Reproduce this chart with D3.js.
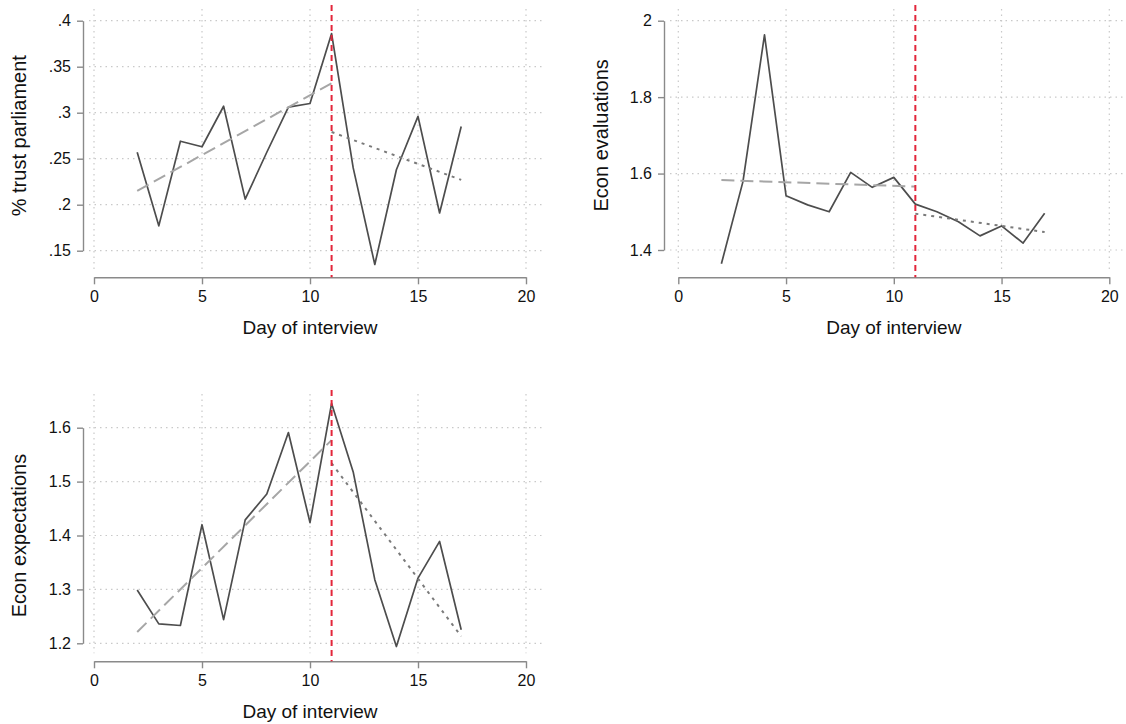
<!DOCTYPE html>
<html>
<head>
<meta charset="utf-8">
<script src="https://cdn.jsdelivr.net/npm/d3@7"></script>
<style>
  html, body { margin: 0; padding: 0; background: #fff; }
  svg { display: block; font-family: "Liberation Sans", Arial, Helvetica, sans-serif; }
</style>
</head>
<body>
<svg width="1126" height="724"></svg>
<script>
/* globals d3 */

// ---- data ----
const days = [2, 3, 4, 5, 6, 7, 8, 9, 10, 11, 12, 13, 14, 15, 16, 17];
const cutoffDay = 11;

const trustParliament = [.257, .177, .269, .263, .307, .206, .257, .306, .31, .386, .24, .135, .238, .296, .191, .285];
const econEvaluations = [1.364, 1.579, 1.963, 1.542, 1.518, 1.50, 1.603, 1.564, 1.59, 1.52, 1.50, 1.474, 1.437, 1.463, 1.418, 1.496];
const econExpectations = [1.299, 1.236, 1.233, 1.42, 1.244, 1.429, 1.477, 1.591, 1.424, 1.645, 1.518, 1.318, 1.194, 1.321, 1.389, 1.225];

// fitted lines before / after the cutoff (end points)
const preFitDays = [2, 11];
const postFitDays = [11, 17];
const trustPreFit = [.215, .332];
const trustPostFit = [.279, .227];
const evalPreFit = [1.583, 1.566];
const evalPostFit = [1.495, 1.447];
const expectPreFit = [1.221, 1.577];
const expectPostFit = [1.534, 1.213];

const xTicks = [0, 5, 10, 15, 20];
const xTickLabels = ["0", "5", "10", "15", "20"];
const trustTicks = [.15, .2, .25, .3, .35, .4];
const trustTickLabels = [".15", ".2", ".25", ".3", ".35", ".4"];
const evalTicks = [1.4, 1.6, 1.8, 2];
const evalTickLabels = ["1.4", "1.6", "1.8", "2"];
const expectTicks = [1.2, 1.3, 1.4, 1.5, 1.6];
const expectTickLabels = ["1.2", "1.3", "1.4", "1.5", "1.6"];

const xLabel = "Day of interview";

// ---- layout ----
const panels = [
  { values: trustParliament, pre: trustPreFit, post: trustPostFit, ticks: trustTicks, labels: trustTickLabels,
    yLabel: "% trust parliament", axisX: 83, xLeft: 94, xRight: 526, yTop: 20.7, yBottom: 250.7,
    plotTop: 5, axisY: 277.3, gridRight: 545, titleX: 19 },
  { values: econEvaluations, pre: evalPreFit, post: evalPostFit, ticks: evalTicks, labels: evalTickLabels,
    yLabel: "Econ evaluations", axisX: 664, xLeft: 678.3, xRight: 1109.3, yTop: 20.7, yBottom: 250,
    plotTop: 5, axisY: 277.3, gridRight: 1126, titleX: 601 },
  { values: econExpectations, pre: expectPreFit, post: expectPostFit, ticks: expectTicks, labels: expectTickLabels,
    yLabel: "Econ expectations", axisX: 83, xLeft: 94, xRight: 526, yTop: 427.7, yBottom: 643.3,
    plotTop: 390, axisY: 661.3, gridRight: 545, titleX: 19 }
];

const svg = d3.select("svg");

panels.forEach(p => {
  const x = d3.scaleLinear([0, 20], [p.xLeft, p.xRight]);
  const y = d3.scaleLinear(d3.extent(p.ticks), [p.yBottom, p.yTop]);
  const g = svg.append("g");

  // grid
  g.append("g")
    .attr("stroke", "#c9c9c9")
    .attr("stroke-width", 1.2)
    .attr("stroke-dasharray", "1.5,4")
    .call(gg => gg.selectAll(".h").data(p.ticks).join("line")
      .attr("x1", p.axisX + 6).attr("x2", p.gridRight)
      .attr("y1", d => y(d)).attr("y2", d => y(d)))
    .call(gg => gg.selectAll(".v").data(xTicks).join("line")
      .attr("x1", d => x(d)).attr("x2", d => x(d))
      .attr("y1", p.plotTop + 4).attr("y2", p.axisY - 8));

  // y axis
  g.append("g")
    .attr("transform", `translate(${p.axisX},0)`)
    .call(d3.axisLeft(y).tickValues(p.ticks).tickFormat((d, i) => p.labels[i])
      .tickSize(6).tickSizeOuter(0).tickPadding(6))
    .call(a => a.selectAll("path, line").attr("stroke", "#8a8a8a").attr("stroke-width", 1.4))
    .call(a => a.selectAll("text").attr("font-size", 16).attr("fill", "#111")
      .attr("font-family", "Liberation Sans, Arial, sans-serif"));

  // x axis
  g.append("g")
    .attr("transform", `translate(0,${p.axisY})`)
    .call(d3.axisBottom(x).tickValues(xTicks).tickFormat((d, i) => xTickLabels[i])
      .tickSize(7).tickSizeOuter(0).tickPadding(6))
    .call(a => a.selectAll("path, line").attr("stroke", "#8a8a8a").attr("stroke-width", 1.4))
    .call(a => a.selectAll("text").attr("font-size", 16).attr("fill", "#111")
      .attr("font-family", "Liberation Sans, Arial, sans-serif"));

  // titles
  g.append("text")
    .attr("x", (p.xLeft + p.xRight) / 2)
    .attr("y", p.axisY + 57)
    .attr("text-anchor", "middle")
    .attr("font-size", 19)
    .attr("fill", "#111")
    .text(xLabel);

  g.append("text")
    .attr("transform", `translate(${p.titleX},${(p.yTop + p.yBottom) / 2}) rotate(-90)`)
    .attr("dy", "0.35em")
    .attr("text-anchor", "middle")
    .attr("font-size", 20)
    .attr("fill", "#111")
    .text(p.yLabel);

  const line = d3.line().x(d => x(d[0])).y(d => y(d[1]));

  // observed series
  g.append("path")
    .attr("fill", "none")
    .attr("stroke", "#4d4d4d")
    .attr("stroke-width", 1.7)
    .attr("stroke-linejoin", "round")
    .attr("d", line(d3.zip(days, p.values)));

  // fit before cutoff
  g.append("path")
    .attr("fill", "none")
    .attr("stroke", "#a6a6a6")
    .attr("stroke-width", 2)
    .attr("stroke-dasharray", "13,6")
    .attr("d", line(d3.zip(preFitDays, p.pre)));

  // fit after cutoff
  g.append("path")
    .attr("fill", "none")
    .attr("stroke", "#7a7a7a")
    .attr("stroke-width", 2)
    .attr("stroke-dasharray", "3,5")
    .attr("d", line(d3.zip(postFitDays, p.post)));

  // cutoff line
  g.append("line")
    .attr("x1", x(cutoffDay)).attr("x2", x(cutoffDay))
    .attr("y1", p.plotTop).attr("y2", p.axisY)
    .attr("stroke", "#e3263b")
    .attr("stroke-width", 2)
    .attr("stroke-dasharray", "6,4");
});
</script>
</body>
</html>
